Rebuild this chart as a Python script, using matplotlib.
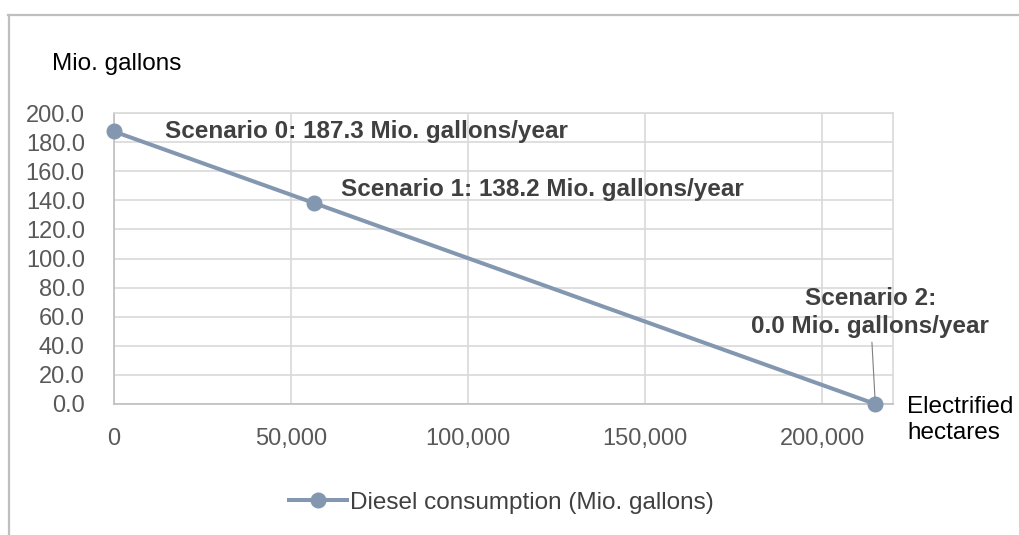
import matplotlib.pyplot as plt
from matplotlib.lines import Line2D
from matplotlib.ticker import FuncFormatter

plt.rcParams['font.family'] = ['Liberation Sans', 'DejaVu Sans']

# data
hectares = [0, 56400, 215000]
diesel = [187.3, 138.2, 0.0]
labels = [
    'Scenario 0: 187.3 Mio. gallons/year',
    'Scenario 1: 138.2 Mio. gallons/year',
    'Scenario 2:\n0.0 Mio. gallons/year',
]
x_ticks = [0, 50000, 100000, 150000, 200000]
y_ticks = [0, 20, 40, 60, 80, 100, 120, 140, 160, 180, 200]
series_name = 'Diesel consumption (Mio. gallons)'

line_color = '#8497B0'
grid_color = '#D9D9D9'

fig = plt.figure(figsize=(10.2, 5.35), dpi=100)
ax = fig.add_axes([114 / 1020, 1 - 404 / 535, (893 - 114) / 1020, (404 - 113) / 535])

ax.plot(hectares, diesel, color=line_color, lw=2.9, marker='o', ms=10.5,
        label=series_name, zorder=3, clip_on=False)

ax.set_xlim(0, 220000)
ax.set_ylim(0, 200)
ax.set_xticks(x_ticks)
ax.set_yticks(y_ticks)
ax.xaxis.set_major_formatter(FuncFormatter(lambda v, p: f'{int(v):,}'))
ax.yaxis.set_major_formatter(FuncFormatter(lambda v, p: f'{v:.1f}'))
ax.tick_params(length=0, labelsize=17, labelcolor='#595959')
ax.tick_params(axis='x', pad=17)
ax.tick_params(axis='y', pad=21)
ax.grid(True, color=grid_color, lw=1.2)
ax.set_axisbelow(True)
for side in ax.spines:
    ax.spines[side].set_color(grid_color)
    ax.spines[side].set_linewidth(1.2)
ax.spines['bottom'].set_color('#BFBFBF')
ax.spines['left'].set_color('#BFBFBF')

# scenario labels
offsets = [(36.5, 0), (20, 9.5), (-3.6, 66)]
for i, (txt, off) in enumerate(zip(labels, offsets)):
    if i < 2:
        ax.annotate(txt, (hectares[i], diesel[i]), xytext=off,
                    textcoords='offset points', ha='left', va='center',
                    fontsize=17.5, fontweight='bold', color='#404040')
    else:
        ax.annotate(txt, (hectares[i], diesel[i]), xytext=off,
                    textcoords='offset points', ha='center', va='center',
                    fontsize=17.5, fontweight='bold', color='#404040',
                    linespacing=1.3, annotation_clip=False,
                    arrowprops=dict(arrowstyle='-', color='#7F7F7F', lw=0.8,
                                    shrinkA=1, shrinkB=5))

fig.text(52 / 1020, 1 - 64 / 535, 'Mio. gallons', fontsize=17.5,
         va='center', ha='left', color='black')
fig.text(907 / 1020, 1 - 420 / 535, 'Electrified\nhectares', fontsize=17.5,
         va='center', ha='left', color='black', linespacing=1.25)

fig.legend(loc='center', bbox_to_anchor=(501 / 1020, 1 - 503 / 535),
           frameon=False, fontsize=17.5, handlelength=2.4, handletextpad=0.1,
           labelcolor='#404040')

# outer chart frame
fig.add_artist(Line2D([8 / 1020, 1], [1 - 15 / 535, 1 - 15 / 535],
                      transform=fig.transFigure, color='#BFBFBF', lw=1.6))
fig.add_artist(Line2D([9 / 1020, 9 / 1020], [0, 1 - 15 / 535],
                      transform=fig.transFigure, color='#BFBFBF', lw=1.6))

fig.savefig('out.png', dpi=100)
